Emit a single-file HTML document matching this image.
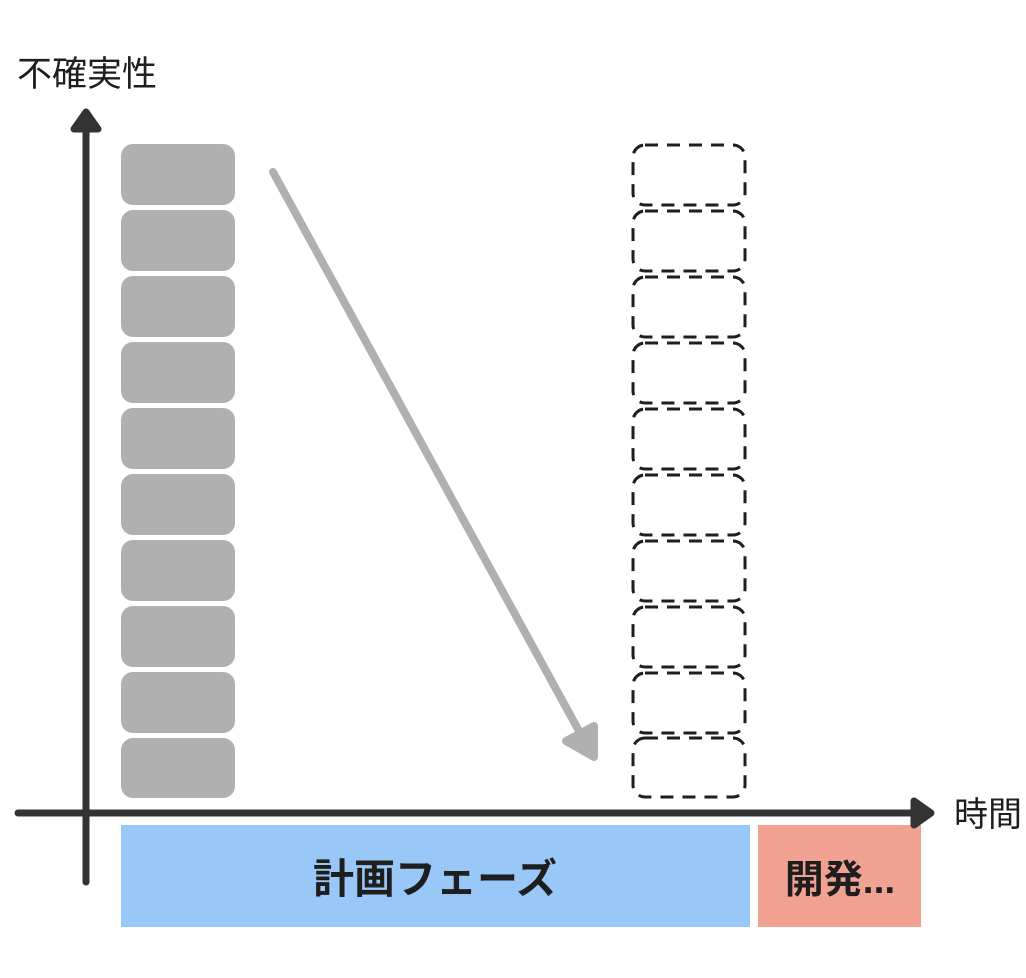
<!DOCTYPE html>
<html><head><meta charset="utf-8"><style>
body{margin:0;background:#fff;width:1026px;height:973px;overflow:hidden}
text{font-family:"Liberation Sans","Noto Sans CJK JP",sans-serif}
</style></head><body>
<svg width="1026" height="973" viewBox="0 0 1026 973">
<rect x="121" y="825" width="629" height="102" fill="#99c8f8"/>
<rect x="758" y="825" width="163" height="102" fill="#f2a292"/>
<text x="435" y="893" font-size="41" font-weight="bold" text-anchor="middle" fill="#1e1e1e">計画フェーズ</text>
<text x="840" y="893" font-size="39" font-weight="bold" text-anchor="middle" fill="#1e1e1e">開発...</text>
<g fill="#b0b0b0">
<rect x="121" y="144" width="114" height="61" rx="12"/>
<rect x="121" y="210" width="114" height="61" rx="12"/>
<rect x="121" y="276" width="114" height="61" rx="12"/>
<rect x="121" y="342" width="114" height="61" rx="12"/>
<rect x="121" y="408" width="114" height="61" rx="12"/>
<rect x="121" y="474" width="114" height="61" rx="12"/>
<rect x="121" y="540" width="114" height="61" rx="12"/>
<rect x="121" y="606" width="114" height="61" rx="12"/>
<rect x="121" y="672" width="114" height="61" rx="12"/>
<rect x="121" y="738" width="114" height="60" rx="12"/>
</g>
<g fill="none" stroke="#1e1e1e" stroke-width="3" stroke-dasharray="13 9">
<rect x="633" y="145" width="112" height="60" rx="12"/>
<rect x="633" y="211" width="112" height="60" rx="12"/>
<rect x="633" y="277" width="112" height="60" rx="12"/>
<rect x="633" y="343" width="112" height="60" rx="12"/>
<rect x="633" y="409" width="112" height="60" rx="12"/>
<rect x="633" y="475" width="112" height="60" rx="12"/>
<rect x="633" y="541" width="112" height="60" rx="12"/>
<rect x="633" y="607" width="112" height="60" rx="12"/>
<rect x="633" y="673" width="112" height="60" rx="12"/>
<rect x="633" y="738" width="112" height="59" rx="12"/>
</g>
<g stroke="#b0b0b0" stroke-width="8" stroke-linecap="round" stroke-linejoin="round" fill="#b0b0b0">
<line x1="273" y1="172" x2="585" y2="742"/>
<polygon points="566,741 594,757 594,726"/>
</g>
<g stroke="#333" stroke-width="7" stroke-linecap="round" stroke-linejoin="round" fill="#333">
<line x1="86" y1="882" x2="86" y2="125"/>
<polygon points="74,129 86,112 98,129"/>
<line x1="18" y1="813" x2="918" y2="813"/>
<polygon points="914,801 931,813 914,825"/>
</g>
<text x="17" y="86" font-size="35" fill="#1e1e1e">不確実性</text>
<text x="954" y="826" font-size="34" fill="#1e1e1e">時間</text>
</svg>
</body></html>
